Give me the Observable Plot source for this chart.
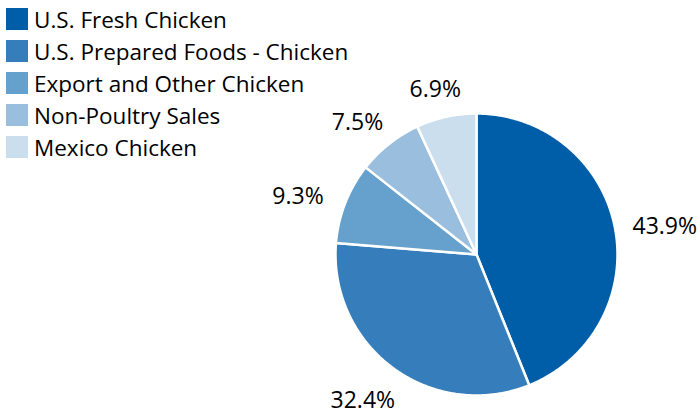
<!DOCTYPE html>
<html><head><meta charset="utf-8">
<script src="https://cdn.jsdelivr.net/npm/d3@7"></script>
<script src="https://cdn.jsdelivr.net/npm/@observablehq/plot@0.6"></script>
<style>
body{margin:0;background:#fff;}
#chart{position:relative;width:700px;height:414px;}
</style>
</head><body><div id="chart"></div>
<script>
const categories = ["U.S. Fresh Chicken","U.S. Prepared Foods - Chicken","Export and Other Chicken","Non-Poultry Sales","Mexico Chicken"];
const shares = [43.9, 32.4, 9.3, 7.5, 6.9];
const labels = ["43.9%","32.4%","9.3%","7.5%","6.9%"];
const colors = ["#005ea8","#357ebb","#66a0cc","#9abedd","#cadeee"];

const slices = d3.pie().sort(null).value(d => d.value)(
  categories.map((name, i) => ({name, value: shares[i], label: labels[i]}))
);
const polys = slices.flatMap(s => {
  const n = Math.max(2, Math.ceil((s.endAngle - s.startAngle) / (Math.PI / 360)));
  const pts = [{name: s.data.name, x: 0, y: 0}];
  for (let k = 0; k <= n; k++) {
    const a = s.startAngle + (s.endAngle - s.startAngle) * k / n;
    pts.push({name: s.data.name, x: Math.sin(a), y: Math.cos(a)});
  }
  pts.push({name: s.data.name, x: 0, y: 0});
  return pts;
});
const labelPts = slices.map(s => {
  const a = (s.startAngle + s.endAngle) / 2;
  return {label: s.data.label, x: 1.36 * Math.sin(a), y: 1.24 * Math.cos(a) - 0.04};
});

const plot = Plot.plot({
  width: 700, height: 414,
  marginLeft: 335, marginRight: 83, marginTop: 113, marginBottom: 19,
  x: {domain: [-1, 1], axis: null},
  y: {domain: [-1, 1], axis: null},
  color: {domain: categories, range: colors},
  style: {fontFamily: "'Open Sans'", background: "white", overflow: "visible"},
  marks: [
    Plot.line(polys, {x: "x", y: "y", z: "name", fill: "name", stroke: "white", strokeWidth: 2.5, strokeLinejoin: "round"}),
    Plot.text(labelPts, {x: "x", y: "y", text: "label", fontSize: 23, fill: "black"})
  ]
});
const chart = document.getElementById("chart");
chart.appendChild(plot);

const leg = plot.legend("color", {columns: 1, swatchWidth: 22, swatchHeight: 22});
d3.select(leg)
  .style("position", "absolute").style("left", "6px").style("top", "3px")
  .style("font-family", "'Open Sans'").style("font-size", "22.5px").style("color", "#000")
  .style("margin", "0").style("width", "420px");
d3.select(leg).selectAll(":scope > div").style("height", "32px").style("padding-bottom", "0");
d3.select(leg).selectAll("svg").style("margin-right", "6px");
chart.appendChild(leg);
</script>
</body></html>
